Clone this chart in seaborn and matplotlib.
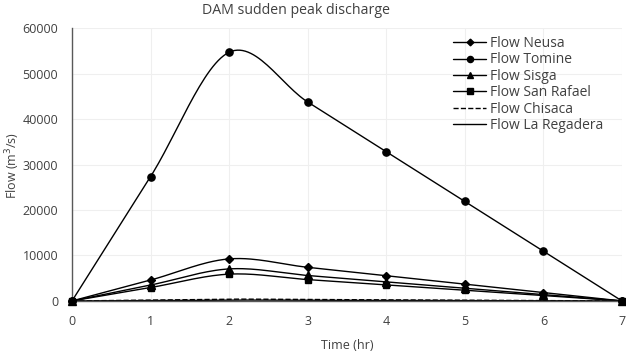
import numpy as np
import pandas as pd
import seaborn as sns
import matplotlib.pyplot as plt

# ----------------------------
# data
# ----------------------------
hours = [0, 1, 2, 3, 4, 5, 6, 7]
flow_neusa = [0, 4600, 9250, 7400, 5550, 3700, 1850, 0]
flow_tomine = [0, 27350, 54700, 43760, 32820, 21880, 10940, 0]
flow_sisga = [0, 3500, 7050, 5600, 4200, 2800, 1400, 0]
flow_san_rafael = [0, 2950, 5900, 4700, 3550, 2350, 1200, 0]
flow_chisaca = [0, 200, 400, 320, 240, 160, 80, 0]
flow_la_regadera = [0, 100, 200, 160, 120, 80, 40, 0]

series = [
    ("Flow Neusa", flow_neusa, "D", 4, "-"),
    ("Flow Tomine", flow_tomine, "o", 5.2, "-"),
    ("Flow Sisga", flow_sisga, "^", 5.5, "-"),
    ("Flow San Rafael", flow_san_rafael, "s", 4.8, "-"),
    ("Flow Chisaca", flow_chisaca, None, 0, "--"),
    ("Flow La Regadera", flow_la_regadera, None, 0, "-"),
]


def smooth(x, y, n=30):
    # excel-style smoothed line (catmull-rom bezier)
    x = np.asarray(x, float)
    y = np.asarray(y, float)
    px = np.concatenate([[x[0]], x, [x[-1]]])
    py = np.concatenate([[y[0]], y, [y[-1]]])
    xs, ys = [], []
    t = np.linspace(0, 1, n)
    for i in range(1, len(px) - 2):
        p0 = np.array([px[i], py[i]])
        p3 = np.array([px[i + 1], py[i + 1]])
        p1 = p0 + (np.array([px[i + 1], py[i + 1]]) - np.array([px[i - 1], py[i - 1]])) / 6
        p2 = p3 - (np.array([px[i + 2], py[i + 2]]) - np.array([px[i], py[i]])) / 6
        b = ((1 - t) ** 3)[:, None] * p0 + (3 * (1 - t) ** 2 * t)[:, None] * p1 \
            + (3 * (1 - t) * t ** 2)[:, None] * p2 + (t ** 3)[:, None] * p3
        xs.extend(b[:, 0])
        ys.extend(b[:, 1])
    return xs, ys


sns.set_style("white")
plt.rcParams['font.family'] = ['Open Sans', 'DejaVu Sans']

fig = plt.figure(figsize=(6.26, 3.52), dpi=100)
ax = fig.add_axes([0.115, 0.145, 0.8786, 0.775])

handles = []
for name, vals, mk, ms, ls in series:
    sx, sy = smooth(hours, vals)
    df = pd.DataFrame({"x": sx, "y": sy})
    sns.lineplot(data=df, x="x", y="y", ax=ax, color="black", lw=1.0,
                 linestyle=ls, sort=False, estimator=None, clip_on=False)
    if mk:
        ax.plot(hours, vals, linestyle="none", marker=mk, ms=ms, color="black",
                clip_on=False, zorder=5)
    h, = ax.plot([], [], color="black", lw=1.0, linestyle=ls,
                 marker=mk if mk else None, ms=ms * 0.85, label=name)
    handles.append(h)

ax.set_xlim(0, 7)
ax.set_ylim(0, 60000)
ax.set_xticks(range(8))
ax.set_yticks(range(0, 60001, 10000))
ax.grid(True, color="#efefef", lw=0.8)
for s in ["top", "right"]:
    ax.spines[s].set_visible(False)
for s in ["left", "bottom"]:
    ax.spines[s].set_color("#595959")
    ax.spines[s].set_linewidth(1)
ax.tick_params(axis="both", labelsize=9, colors="#404040", length=0, pad=10)
ax.set_xlabel("Time (hr)", fontsize=9, color="#404040", labelpad=8)
ax.set_ylabel("")

fig.text(13 / 626, 1 - 165 / 352, "Flow (m$^3$/s)", rotation=90, ha="center",
         va="center", fontsize=9, color="#404040")

ax.legend(handles=handles, loc="upper left", bbox_to_anchor=(453 / 626, 1 - 36 / 352),
          bbox_transform=fig.transFigure, borderpad=0, borderaxespad=0,
          frameon=False, fontsize=10, handlelength=2.4, labelspacing=0.1,
          handletextpad=0.3, labelcolor="#404040")

fig.text(296 / 626, 1 - 10 / 352, "DAM sudden peak discharge", ha="center",
         va="center", fontsize=10.2, color="#404040")

plt.savefig("out.png", dpi=100)
